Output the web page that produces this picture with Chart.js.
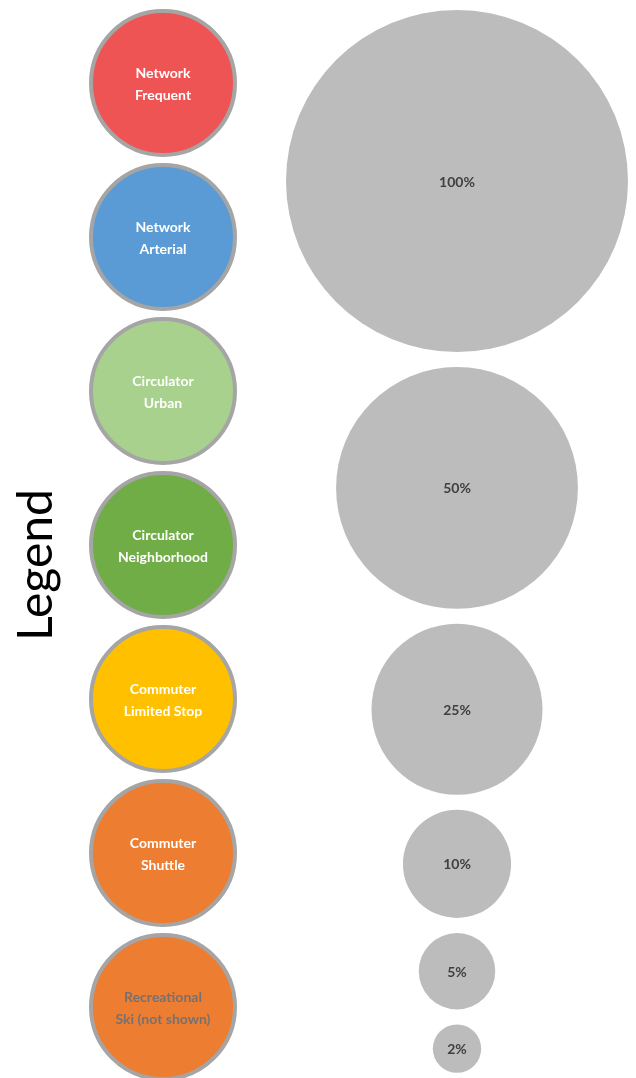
<!DOCTYPE html>
<html>
<head>
<meta charset="utf-8">
<script src="https://cdn.jsdelivr.net/npm/chart.js@4"></script>
<style>
  html, body { margin: 0; padding: 0; background: #ffffff; }
  #wrap { width: 636px; height: 1078px; }
</style>
</head>
<body>
<div id="wrap"><canvas id="chart"></canvas></div>
<script>
// service types shown in the legend column
const serviceTypes = ['Network Frequent', 'Network Arterial', 'Circulator Urban', 'Circulator Neighborhood',
  'Commuter Limited Stop', 'Commuter Shuttle', 'Recreational Ski (not shown)'];
const serviceLines = [
  ['Network', 'Frequent'],
  ['Network', 'Arterial'],
  ['Circulator', 'Urban'],
  ['Circulator', 'Neighborhood'],
  ['Commuter', 'Limited Stop'],
  ['Commuter', 'Shuttle'],
  ['Recreational', 'Ski (not shown)']
];
const serviceColors = ['#EF5455', '#5B9BD5', '#A9D18E', '#70AD47', '#FFC000', '#ED7D31', '#ED7D31'];
const serviceTextColors = ['#ffffff', '#ffffff', '#ffffff', '#ffffff', '#ffffff', '#ffffff', '#767171'];

// relative frequency sizes (area proportional)
const sizeValues = [100, 50, 25, 10, 5, 2];
const sizeLabels = ['100%', '50%', '25%', '10%', '5%', '2%'];

// layout (pixel units, the scales below run 0..636 / 0..1078)
const legendX = 163, legendTop = 83, legendPitch = 154, legendR = 72;
const sizeX = 457, sizeTop = 10, sizeGap = 15, sizeMaxR = 171;

const legendPoints = serviceTypes.map((name, i) => ({ x: legendX, y: legendTop + legendPitch * i, r: legendR }));

const sizePoints = [];
let cursor = sizeTop;
sizeValues.forEach(v => {
  const r = sizeMaxR * Math.sqrt(v / 100);
  sizePoints.push({ x: sizeX, y: cursor + r, r: r });
  cursor += 2 * r + sizeGap;
});

const labelPlugin = {
  id: 'bubbleLabels',
  afterDatasetsDraw(chart) {
    const ctx = chart.ctx;
    ctx.save();
    ctx.textAlign = 'center';
    ctx.textBaseline = 'middle';

    chart.getDatasetMeta(0).data.forEach((el, i) => {
      ctx.fillStyle = serviceTextColors[i];
      ctx.font = 'bold 14px Lato';
      const lines = serviceLines[i];
      lines.forEach((line, j) => {
        ctx.fillText(line, el.x, el.y + 1.5 + (j - (lines.length - 1) / 2) * 22);
      });
    });

    chart.getDatasetMeta(1).data.forEach((el, i) => {
      ctx.fillStyle = '#404040';
      ctx.font = 'bold 14px Lato';
      ctx.fillText(sizeLabels[i], el.x, el.y + 1);
    });

    // vertical "Legend" title
    ctx.translate(52, 565);
    ctx.rotate(-Math.PI / 2);
    ctx.textBaseline = 'alphabetic';
    ctx.fillStyle = '#000000';
    ctx.font = '48px Lato';
    ctx.fillText('Legend', 0, 0);
    ctx.restore();
  }
};

new Chart(document.getElementById('chart'), {
  type: 'bubble',
  data: {
    datasets: [
      {
        label: 'Service type',
        data: legendPoints,
        backgroundColor: serviceColors,
        borderColor: '#A5A5A5',
        borderWidth: 4,
        clip: false
      },
      {
        label: 'Frequency',
        data: sizePoints,
        backgroundColor: '#BCBCBC',
        borderColor: '#BCBCBC',
        borderWidth: 0,
        clip: false
      }
    ]
  },
  options: {
    responsive: true,
    maintainAspectRatio: false,
    animation: false,
    events: [],
    layout: { padding: 0, autoPadding: false },
    scales: {
      x: { type: 'linear', min: 0, max: 636, display: false },
      y: { type: 'linear', min: 0, max: 1078, reverse: true, display: false }
    },
    plugins: {
      legend: { display: false },
      tooltip: { enabled: false }
    }
  },
  plugins: [labelPlugin]
});
</script>
</body>
</html>
